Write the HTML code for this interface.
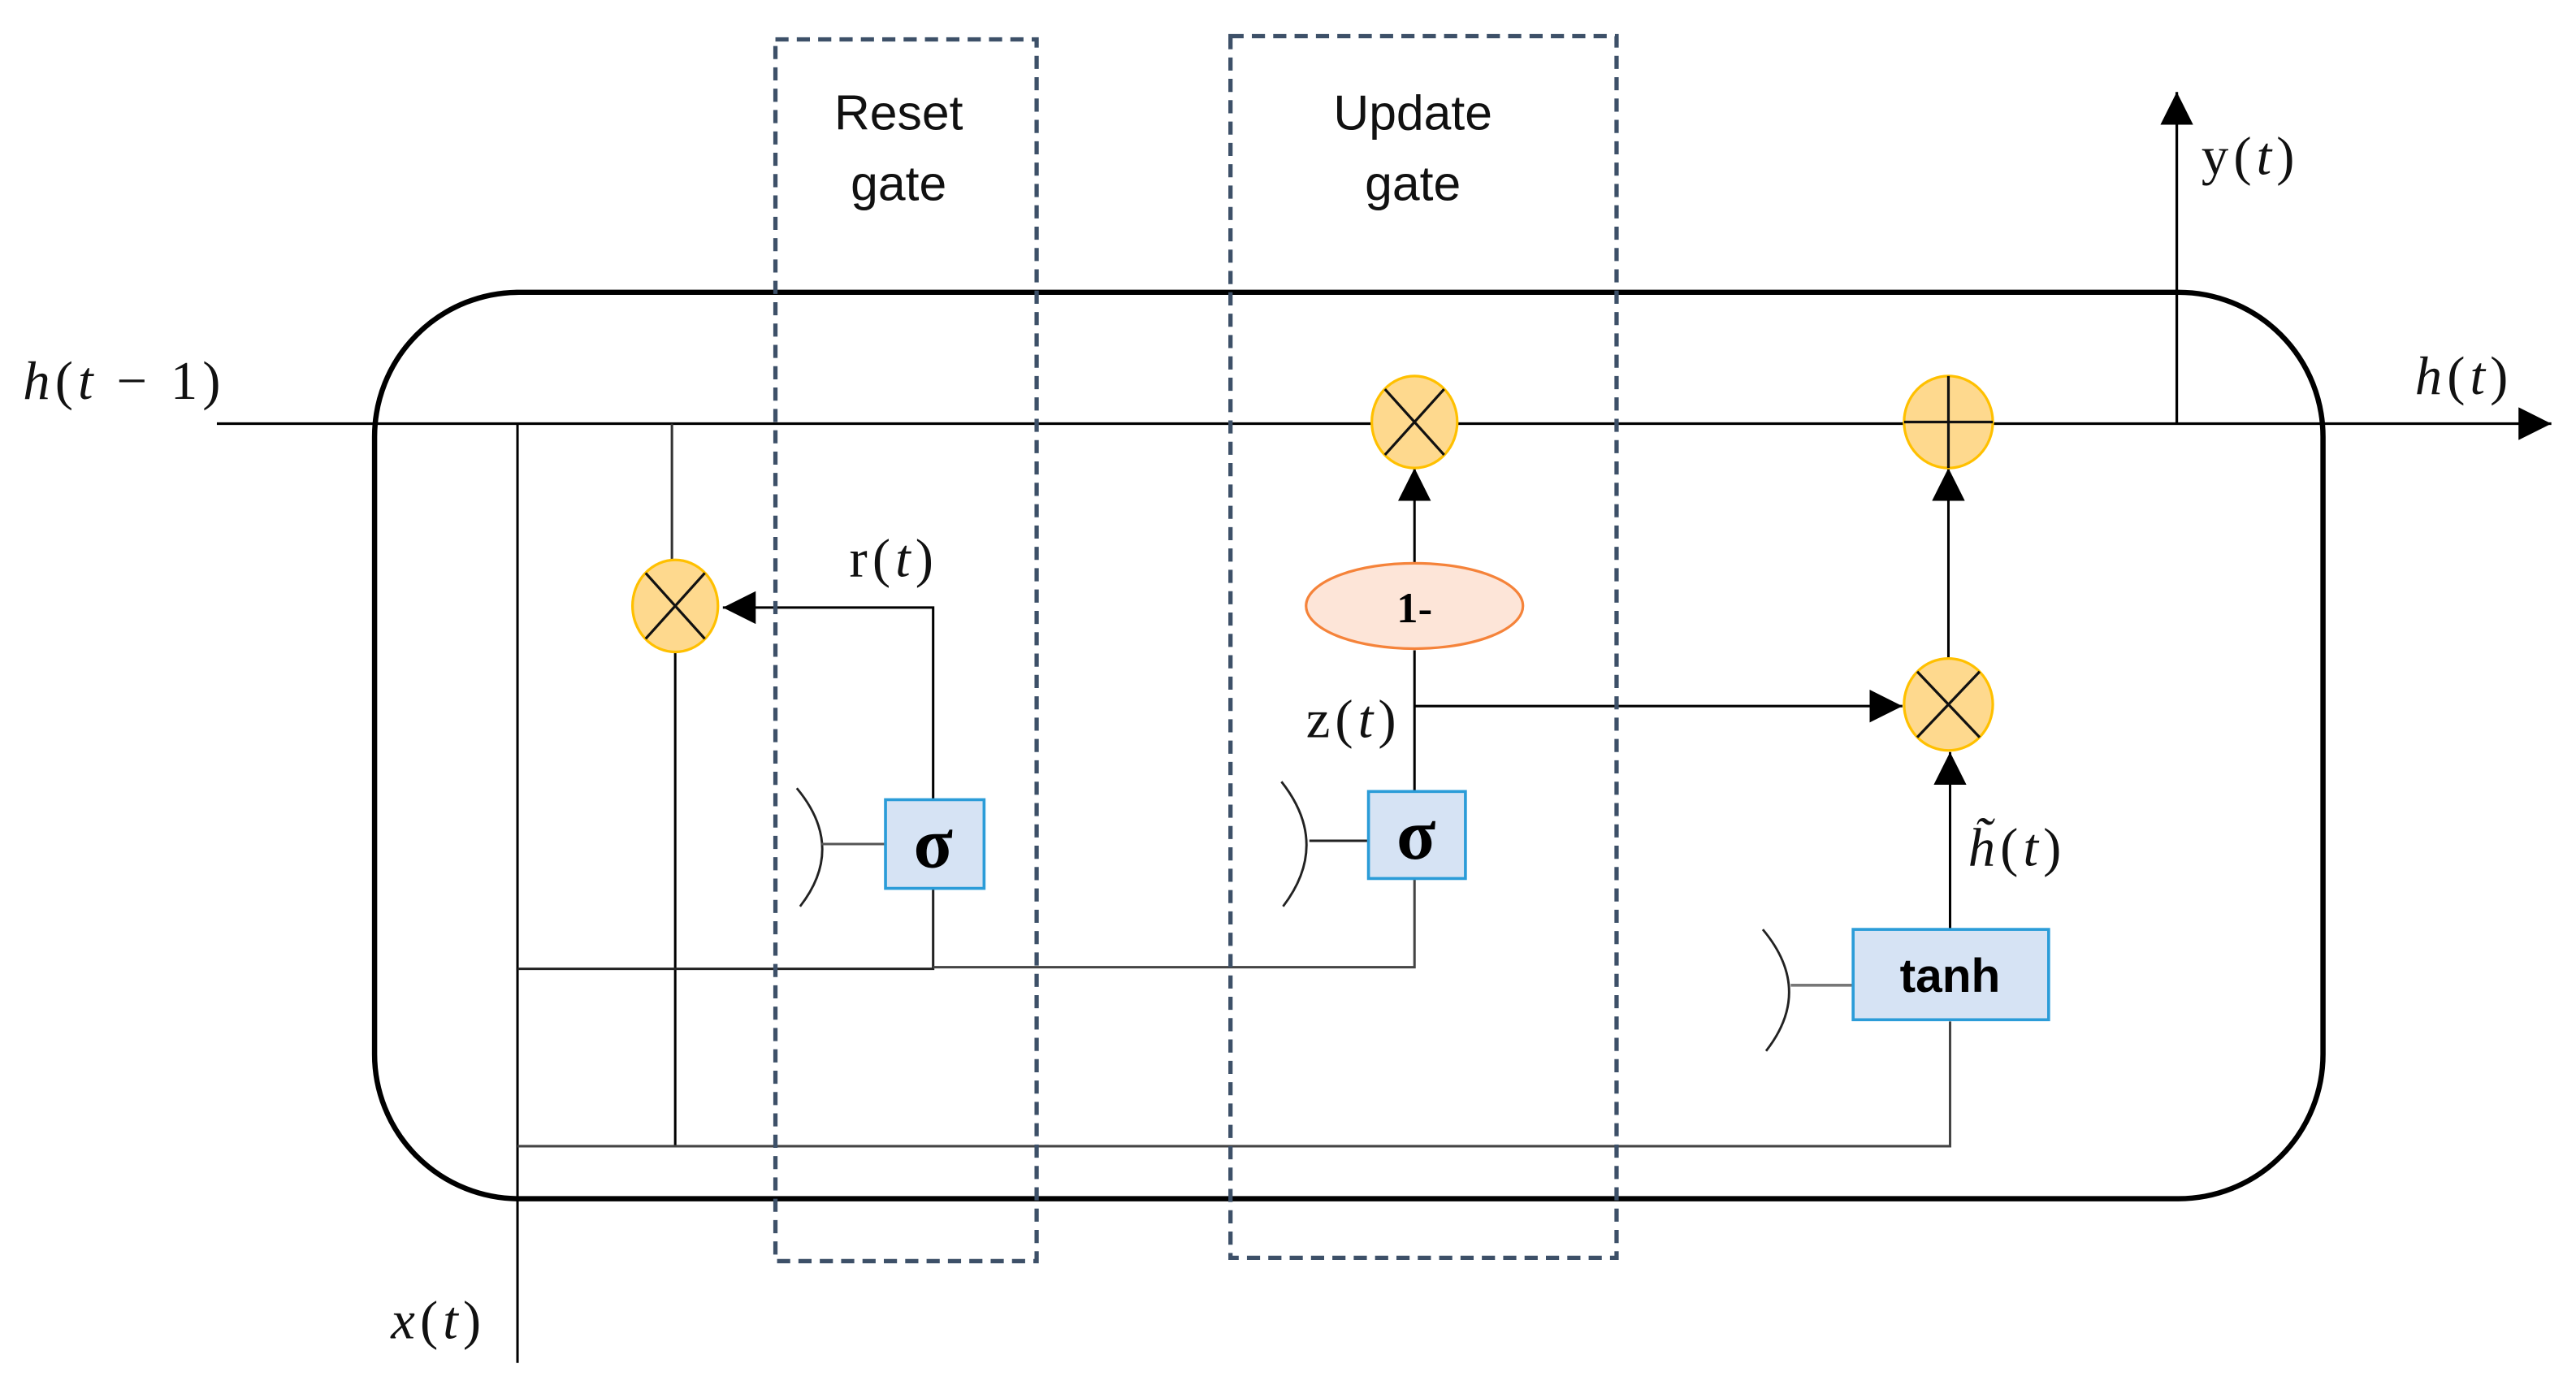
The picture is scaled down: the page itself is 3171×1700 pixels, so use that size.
<!DOCTYPE html>
<html><head><meta charset="utf-8"><style>
html,body{margin:0;padding:0;background:#fff;width:3171px;height:1700px;overflow:hidden}
svg{display:block}
.s{font-family:"Liberation Serif",serif}
.c{font-family:"Liberation Sans",sans-serif}
</style></head><body>
<svg width="3171" height="1700" viewBox="0 0 1568 841" preserveAspectRatio="none" xmlns="http://www.w3.org/2000/svg">
<defs>
<marker id="b" viewBox="0 0 10 10" refX="10" refY="5" markerWidth="20" markerHeight="20" markerUnits="userSpaceOnUse" orient="auto"><path d="M0,0 L10,5 L0,10z" fill="#000"/></marker>
</defs>
<rect x="228" y="178" width="1186" height="552" rx="88" ry="88" fill="none" stroke="#000" stroke-width="3.2"/>
<line x1="132" y1="258" x2="1553" y2="258" stroke="#000" stroke-width="1.6" marker-end="url(#b)"/>
<line x1="1325" y1="258" x2="1325" y2="56" stroke="#000" stroke-width="1.6" marker-end="url(#b)"/>
<line x1="315" y1="258" x2="315" y2="830" stroke="#000" stroke-width="1.5"/>
<line x1="409" y1="258" x2="409" y2="342" stroke="#333" stroke-width="1.5"/>
<line x1="411" y1="396" x2="411" y2="698" stroke="#000" stroke-width="1.5"/>
<polyline points="315,698 1187,698 1187,622" fill="none" stroke="#444" stroke-width="1.5"/>
<polyline points="315,590 568,590 568,541" fill="none" stroke="#222" stroke-width="1.5"/>
<polyline points="568,589 861,589 861,535" fill="none" stroke="#444" stroke-width="1.5"/>
<polyline points="568,487 568,370 440,370" fill="none" stroke="#000" stroke-width="1.5" marker-end="url(#b)"/>
<line x1="861" y1="482" x2="861" y2="396" stroke="#000" stroke-width="1.5"/>
<line x1="861" y1="343" x2="861" y2="285" stroke="#000" stroke-width="1.5" marker-end="url(#b)"/>
<line x1="861" y1="430" x2="1158" y2="430" stroke="#000" stroke-width="1.5" marker-end="url(#b)"/>
<line x1="1187" y1="566" x2="1187" y2="458" stroke="#000" stroke-width="1.5" marker-end="url(#b)"/>
<line x1="1186" y1="401" x2="1186" y2="285" stroke="#000" stroke-width="1.5" marker-end="url(#b)"/>
<path d="M485,480 Q515,516 487,552" fill="none" stroke="#222" stroke-width="1.4"/>
<line x1="500" y1="514" x2="539" y2="514" stroke="#555" stroke-width="1.5"/>
<path d="M780,476 Q810,514 781,552" fill="none" stroke="#222" stroke-width="1.4"/>
<line x1="797" y1="512" x2="833" y2="512" stroke="#222" stroke-width="1.5"/>
<path d="M1073,566 Q1104,603 1075,640" fill="none" stroke="#222" stroke-width="1.4"/>
<line x1="1090" y1="600" x2="1128" y2="600" stroke="#777" stroke-width="1.8"/>
<rect x="539" y="487" width="60" height="54" fill="#d6e3f4" stroke="#2b9cd8" stroke-width="1.8"/>
<text x="568" y="528" class="s" font-size="44" font-weight="bold" text-anchor="middle">σ</text>
<rect x="833" y="482" width="59" height="53" fill="#d6e3f4" stroke="#2b9cd8" stroke-width="1.8"/>
<text x="862" y="523" class="s" font-size="44" font-weight="bold" text-anchor="middle">σ</text>
<rect x="1128" y="566" width="119" height="55" fill="#d6e3f4" stroke="#2b9cd8" stroke-width="1.8"/>
<text x="1187" y="604" class="c" font-size="29" font-weight="bold" text-anchor="middle">tanh</text>
<ellipse cx="861" cy="369" rx="66" ry="26" fill="#fde5d8" stroke="#f5833a" stroke-width="1.6"/>
<text x="861" y="379" class="s" font-size="26" font-weight="bold" text-anchor="middle">1-</text>
<g stroke-width="1.6">
<ellipse cx="411" cy="369" rx="26" ry="28" fill="#fed98e" stroke="#ffc000"/>
<path d="M393,349 L429,389 M429,349 L393,389" stroke="#111"/>
<ellipse cx="861" cy="257" rx="26" ry="28" fill="#fed98e" stroke="#ffc000"/>
<path d="M843,237 L879,277 M879,237 L843,277" stroke="#111"/>
<ellipse cx="1186" cy="429" rx="27" ry="28" fill="#fed98e" stroke="#ffc000"/>
<path d="M1167,409 L1205,449 M1205,409 L1167,449" stroke="#111"/>
<ellipse cx="1186" cy="257" rx="27" ry="28" fill="#fed98e" stroke="#ffc000"/>
<path d="M1186,229 L1186,285 M1159,257 L1213,257" stroke="#111"/>
</g>
<rect x="472" y="24" width="159" height="744" fill="none" stroke="#3d5068" stroke-width="2.6" stroke-dasharray="8,5"/>
<rect x="749" y="22" width="235" height="744" fill="none" stroke="#3d5068" stroke-width="2.6" stroke-dasharray="8,5"/>
<g class="c" font-size="30" text-anchor="middle" fill="#111">
<text x="547" y="79">Reset</text><text x="547" y="122">gate</text>
<text x="860" y="79">Update</text><text x="860" y="122">gate</text>
</g>
<g class="s" font-size="33" fill="#111" letter-spacing="3">
<text x="14" y="243"><tspan font-style="italic">h</tspan>(<tspan font-style="italic">t</tspan> − 1)</text>
<text x="1470" y="240"><tspan font-style="italic">h</tspan>(<tspan font-style="italic">t</tspan>)</text>
<text x="1340" y="106">y(<tspan font-style="italic">t</tspan>)</text>
<text x="517" y="351">r(<tspan font-style="italic">t</tspan>)</text>
<text x="795" y="449">z(<tspan font-style="italic">t</tspan>)</text>
<text x="1198" y="527"><tspan font-style="italic">h̃</tspan>(<tspan font-style="italic">t</tspan>)</text>
<text x="238" y="815"><tspan font-style="italic">x</tspan>(<tspan font-style="italic">t</tspan>)</text>
</g>
</svg>
</body></html>
